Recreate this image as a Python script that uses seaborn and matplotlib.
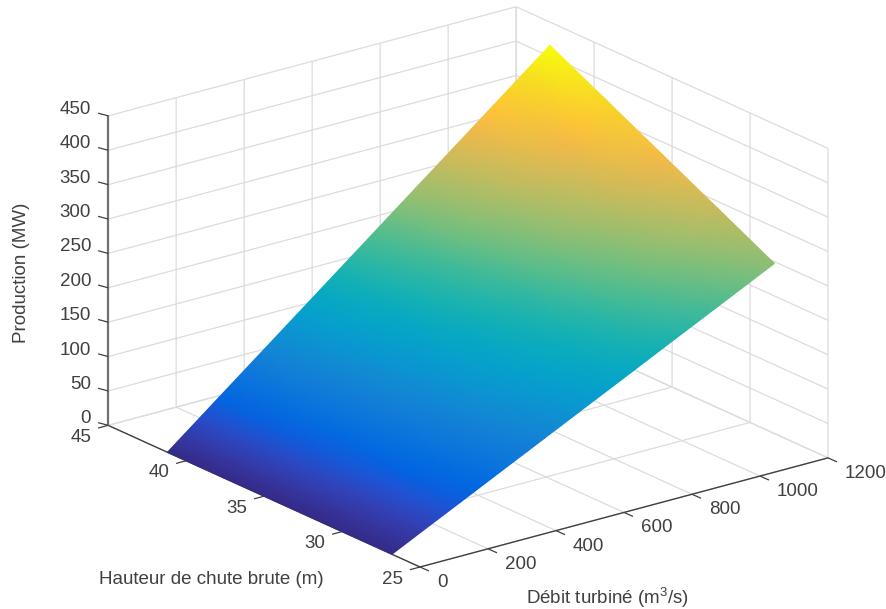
import numpy as np
import matplotlib
matplotlib.use('Agg')
import matplotlib.pyplot as plt
from mpl_toolkits.mplot3d import proj3d
import seaborn as sns

# debit turbine (m3/s) et hauteur de chute (m)
debit = [0, 50, 100, 150, 200, 250, 300, 350, 400, 450, 500, 550, 600, 650, 700, 750, 800, 850, 900, 950, 1000, 1050, 1100, 1125]
hauteur = [26.8, 30.4, 34.0, 37.6, 41.2]

# production (MW), une ligne par hauteur
prod_268 = [0, 12.2, 24.4, 36.5, 48.7, 60.9, 73.1, 85.3, 97.4, 109.6, 121.8, 134.0, 146.2, 158.3, 170.5, 182.7, 194.9, 207.1, 219.2, 231.4, 243.6, 255.8, 268.0, 274.0]
prod_304 = [0, 14.1, 28.1, 42.2, 56.2, 70.3, 84.4, 98.4, 112.5, 126.5, 140.6, 154.7, 168.7, 182.8, 196.8, 210.9, 225.0, 239.0, 253.1, 267.1, 281.2, 295.3, 309.3, 316.4]
prod_340 = [0, 15.9, 31.9, 47.8, 63.7, 79.7, 95.6, 111.5, 127.5, 143.4, 159.4, 175.3, 191.2, 207.2, 223.1, 239.0, 255.0, 270.9, 286.8, 302.8, 318.7, 334.6, 350.6, 358.5]
prod_376 = [0, 17.8, 35.6, 53.4, 71.3, 89.1, 106.9, 124.7, 142.5, 160.3, 178.2, 196.0, 213.8, 231.6, 249.4, 267.2, 285.0, 302.9, 320.7, 338.5, 356.3, 374.1, 391.9, 400.8]
prod_412 = [0, 19.7, 39.4, 59.1, 78.8, 98.5, 118.1, 137.8, 157.5, 177.2, 196.9, 216.6, 236.3, 256.0, 275.7, 295.4, 315.0, 334.7, 354.4, 374.1, 393.8, 413.5, 433.2, 443.0]

xticks = [0, 200, 400, 600, 800, 1000, 1200]
yticks = [25, 30, 35, 40, 45]
zticks = [0, 50, 100, 150, 200, 250, 300, 350, 400, 450]

# parula
parula = ['#352a87', '#3636a0', '#3243ba', '#2053d4', '#0363e1', '#046de0', '#0d75dc', '#127cd8',
          '#1485d4', '#108ed2', '#0998d1', '#06a0cd', '#06a7c6', '#0aacbe', '#15b1b4', '#25b5a9',
          '#38b99e', '#4dbc92', '#65be86', '#7cbf7b', '#92bf73', '#a5be6b', '#b7bd64', '#c8bb5d',
          '#d9ba56', '#e9b94e', '#f8bb44', '#ffc337', '#fcce2e', '#f7d826', '#f5e41d', '#f6f313',
          '#f9fb0e']
cmap = sns.blend_palette(parula, n_colors=256, as_cmap=True)

sns.set_style('white')
plt.rcParams['font.family'] = ['Liberation Sans', 'DejaVu Sans']
plt.rcParams['mathtext.default'] = 'regular'
plt.rcParams['grid.color'] = '#dcdcdc'
plt.rcParams['grid.linewidth'] = 0.9
texte = '#404040'
taille = 13.5

W, H = 887, 609
fig = plt.figure(figsize=(W / 100, H / 100), dpi=100)
ax = fig.add_axes([0, 0, 1, 1], projection='3d', proj_type='ortho')
ax.view_init(elev=20.4, azim=232.5)
ax.set_xlim(0, 1200, view_margin=0)
ax.set_ylim(25, 45, view_margin=0)
ax.set_zlim(0, 450, view_margin=0)
ax.set_xticks(xticks)
ax.set_yticks(yticks)
ax.set_zticks(zticks)
ax.set_xticklabels([])
ax.set_yticklabels([])
ax.set_zticklabels([])

for axe in (ax.xaxis, ax.yaxis, ax.zaxis):
    axe.set_pane_color((1, 1, 1, 0))
    axe.pane.set_edgecolor('#cfcfcf')
    axe.line.set_color('#404040')
    axe.line.set_linewidth(1.0)
    axe._axinfo['tick']['inward_factor'] = 0
    axe._axinfo['tick']['outward_factor'] = 0
ax.zaxis.line.set_color('#707070')
ax.zaxis.line.set_linewidth(1.6)


def en_pixels(x, y, z):
    xp, yp, _ = proj3d.proj_transform(np.ravel(x), np.ravel(y), np.ravel(z), ax.get_proj())
    pts = ax.transData.transform(np.column_stack([xp, yp]))
    return pts[:, 0], pts[:, 1]


# cale le cube sur les coins de la figure d'origine
ax.set_box_aspect((514, 512, 330), zoom=1)
fig.canvas.draw()
x0, _ = en_pixels(0, 25, 0)
x1, _ = en_pixels(1200, 25, 0)
ax.set_box_aspect((514, 512, 330), zoom=408 / (x1[0] - x0[0]))
fig.canvas.draw()
x0, y0 = en_pixels(0, 25, 0)
ax.set_position([(420 - x0[0]) / W, ((H - 567) - y0[0]) / H, 1, 1])
fig.canvas.draw()

# surface, en coordonnees pixels pour avoir un degrade continu
Q, Ht = np.meshgrid(debit, hauteur)
Z = np.array([prod_268, prod_304, prod_340, prod_376, prod_412])
px, py = en_pixels(Q, Ht, Z)
over = fig.add_axes([0, 0, 1, 1], facecolor='none')
over.set_xlim(0, W)
over.set_ylim(0, H)
over.axis('off')
over.pcolormesh(px.reshape(Q.shape), py.reshape(Q.shape), Z, shading='gouraud', cmap=cmap, vmin=0, vmax=443)


# graduations et etiquettes, tournees comme dans matlab
def graduation(x, y, dx, dy, label, tx, ty, ha):
    over.plot([x, x + dx], [y, y + dy], color=texte, lw=0.9, zorder=0.5, solid_capstyle='butt')
    over.text(x + tx, y + ty, str(label), ha=ha, va='center', fontsize=taille, color=texte)


for v in xticks:
    a, b = en_pixels(v, 25, 0)
    graduation(a[0], b[0], 9, -4, v, 17, -15.5, 'left')
for v in yticks:
    a, b = en_pixels(0, v, 0)
    graduation(a[0], b[0], -10, -2.7, v, -27, -12, 'center')
for v in zticks:
    a, b = en_pixels(0, 45, v)
    graduation(a[0], b[0], -10, 2.7, v, -17, 6.5, 'right')

over.text(211, H - 579, 'Hauteur de chute brute (m)', ha='center', va='center', fontsize=taille, color=texte)
over.text(608, H - 598, 'Débit turbiné (m$^3$/s)', ha='center', va='center', fontsize=taille, color=texte)
over.text(22, H - 273, 'Production (MW)', rotation=90, ha='center', va='center', fontsize=taille, color=texte)

fig.savefig('out.png', dpi=100)
